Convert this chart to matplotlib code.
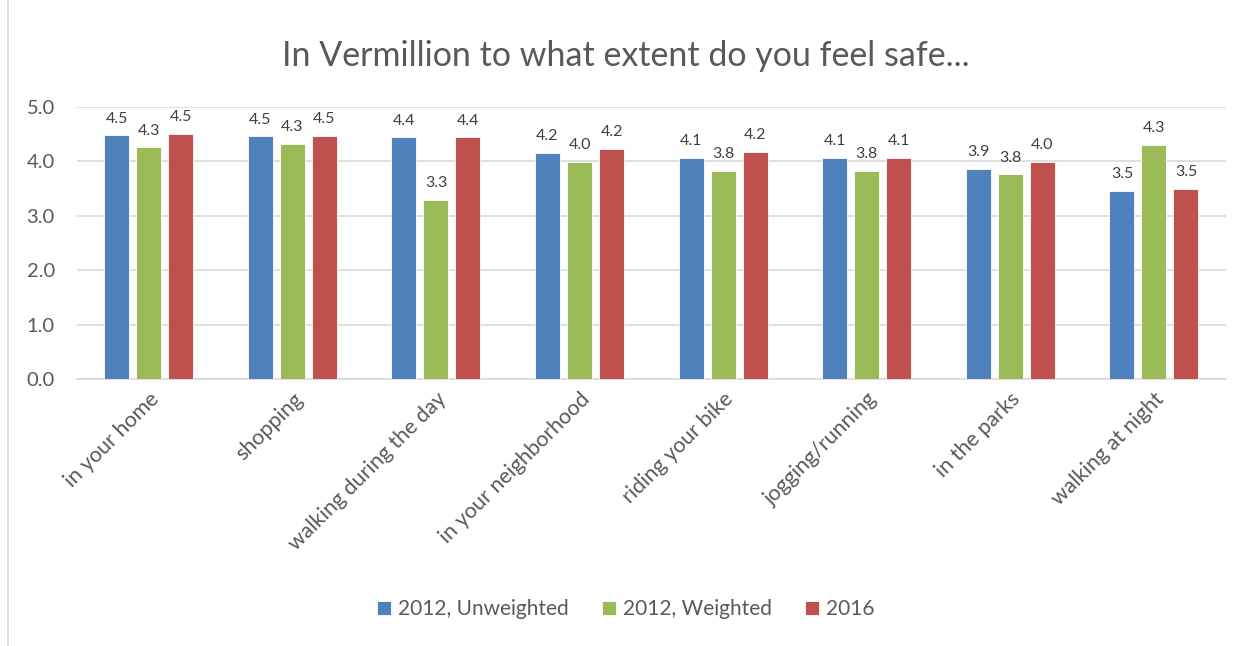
import matplotlib
matplotlib.use("Agg")
import matplotlib.pyplot as plt
import numpy as np
from matplotlib.patches import Rectangle

categories = ["in your home", "shopping", "walking during the day", "in your neighborhood",
              "riding your bike", "jogging/running", "in the parks", "walking at night"]
unweighted_2012 = [4.48, 4.46, 4.44, 4.16, 4.07, 4.06, 3.86, 3.46]
weighted_2012 = [4.26, 4.32, 3.29, 3.99, 3.83, 3.83, 3.76, 4.31]
values_2016 = [4.51, 4.47, 4.44, 4.23, 4.18, 4.07, 3.99, 3.50]
series_names = ["2012, Unweighted", "2012, Weighted", "2016"]
colors = ["#4F81BD", "#9BBB59", "#C0504D"]
yticks = [0.0, 1.0, 2.0, 3.0, 4.0, 5.0]

plt.rcParams['font.family'] = ['Lato', 'DejaVu Sans']

fig = plt.figure(figsize=(12.52, 6.46), dpi=100)
ax = fig.add_axes([0.0615, 0.4133, 0.9175, 0.4211])

x = np.arange(len(categories))
step = 0.223
width = 0.174
for i, (vals, name, col) in enumerate(zip([unweighted_2012, weighted_2012, values_2016], series_names, colors)):
    pos = x + (i - 1) * step
    ax.bar(pos, vals, width=width, color=col, edgecolor='white', linewidth=0.6, label=name, zorder=3)
    for p, v in zip(pos, vals):
        ax.annotate(f"{v:.1f}", (p, v), xytext=(0, 7), textcoords='offset points',
                    ha='center', va='bottom', fontsize=11.5, color='#404040')

ax.set_xlim(-0.5, len(categories) - 0.5)
ax.set_ylim(0, 5.0)
ax.set_yticks(yticks)
ax.set_yticklabels([f"{t:.1f}" for t in yticks], fontsize=14.5, color='#595959')
ax.yaxis.grid(True, color='#D9D9D9', linewidth=1.2, zorder=0)
ax.set_axisbelow(True)
ax.tick_params(axis='y', length=0, pad=16)
ax.tick_params(axis='x', length=0, pad=7)
for s in ['top', 'right', 'left']:
    ax.spines[s].set_visible(False)
ax.spines['bottom'].set_color('#D9D9D9')
ax.spines['bottom'].set_linewidth(1.2)

ax.set_xticks(x)
ax.set_xticklabels(categories, rotation=45, ha='right', rotation_mode='anchor',
                   fontsize=15.5, color='#595959')

fig.text(0.5, 0.913, "In Vermillion to what extent do you feel safe...", ha='center', va='center',
         fontsize=24.5, color='#595959')

fig.legend(loc='center', bbox_to_anchor=(0.5, 0.057), ncol=3, frameon=False,
           fontsize=15, handlelength=0.65, handleheight=0.65, handletextpad=0.35,
           columnspacing=1.6, labelcolor='#595959')

fig.patches.append(Rectangle((8 / 1252, -0.01), 1.1, 1.02, transform=fig.transFigure,
                             fill=False, edgecolor='#D9D9D9', linewidth=1.2))

fig.savefig("out.png", dpi=100, facecolor='white')
